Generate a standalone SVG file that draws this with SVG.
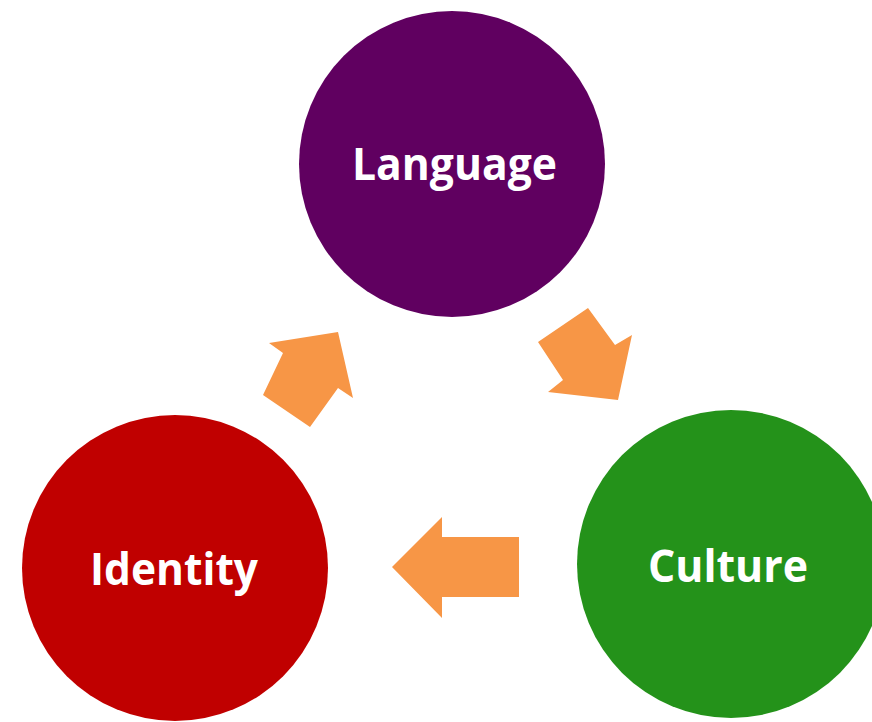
<svg xmlns="http://www.w3.org/2000/svg" width="872" height="722" viewBox="0 0 872 722">
  <style>
    .lbl { font-family: "Open Sans", "Liberation Sans", sans-serif; font-weight: bold; font-size: 44px; fill: #ffffff; text-anchor: middle; }
    .arrow { fill: #F79646; }
  </style>
  <rect x="0" y="0" width="872" height="722" fill="#ffffff"/>
  <g id="connectors">
    <polygon id="arrow-language-culture" class="arrow" points="588,308 615,345 632,335 618,400 548,392 563,380 538,342"/>
    <polygon id="arrow-culture-identity" class="arrow" points="392,567 442,517 442,537 519,537 519,597 442,597 442,618"/>
    <polygon id="arrow-identity-language" class="arrow" points="338,332 353,398 338,388 310,427 263,395 283,353 269,343"/>
  </g>
  <g id="node-language">
    <circle cx="452" cy="164" r="153" fill="#600060"/>
    <text class="lbl" x="454.5" y="180" textLength="205" lengthAdjust="spacingAndGlyphs">Language</text>
  </g>
  <g id="node-identity">
    <circle cx="175" cy="568" r="153" fill="#C00000"/>
    <text class="lbl" x="174" y="585" textLength="168" lengthAdjust="spacingAndGlyphs">Identity</text>
  </g>
  <g id="node-culture">
    <circle cx="731" cy="564" r="154" fill="#24921A"/>
    <text class="lbl" x="728" y="582" textLength="160" lengthAdjust="spacingAndGlyphs">Culture</text>
  </g>
</svg>
